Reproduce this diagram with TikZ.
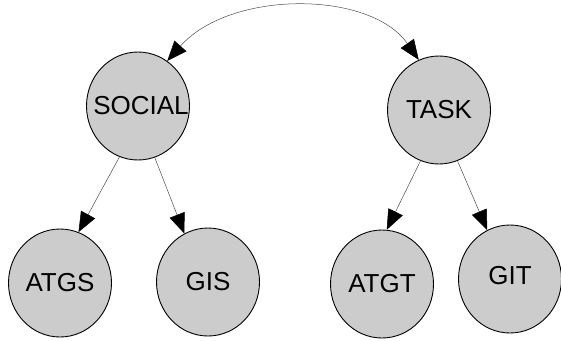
\documentclass[tikz,border=0pt]{standalone}
\usepackage{fontspec}
\setmainfont{Liberation Sans}
\usetikzlibrary{shapes.geometric,arrows.meta}
\newcommand{\ctext}[1]{\makebox[0pt]{#1}}
\begin{document}
\begin{tikzpicture}[x=1pt,y=-1pt,
  cnode/.style={ellipse,draw=black,line width=0.9pt,fill=black!20,minimum width=103pt,minimum height=108pt,inner sep=0pt,font=\fontsize{26}{30}\selectfont},
  link/.style={draw=black!70,line width=0.5pt,-{Triangle[length=20pt,width=16pt,color=black]}},
  blink/.style={draw=black!70,line width=0.5pt,{Triangle[length=20pt,width=16pt,color=black]}-{Triangle[length=20pt,width=16pt,color=black]}}]
\useasboundingbox (0,0) rectangle (561,340);
\node[cnode] (social) at (138,106) {\ctext{\hspace{6pt}SOCIAL}};
\node[cnode] (task) at (439,110) {\ctext{TASK}};
\node[cnode] (atgs) at (60,283) {\ctext{ATGS}};
\node[cnode] (gis) at (208,282) {\ctext{GIS}};
\node[cnode] (atgt) at (382,284) {\ctext{ATGT}};
\node[cnode] (git) at (510,279) {\ctext{\raisebox{8pt}{GIT}}};
\draw[blink] (social.57) .. controls (230,-10) and (370,-10) .. (task.112);
\draw[link] (social.-110) -- (atgs.70);
\draw[link] (social.-72) -- (gis.116);
\draw[link] (task.-110) -- (atgt.85);
\draw[link] (task.-70) -- (git.115);
\end{tikzpicture}
\end{document}
